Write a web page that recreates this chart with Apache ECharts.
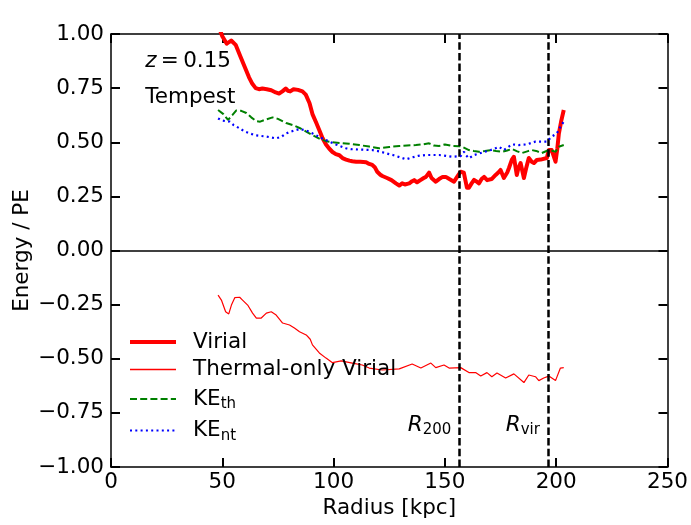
<!DOCTYPE html>
<html>
<head>
<meta charset="utf-8">
<script src="https://cdn.jsdelivr.net/npm/echarts@6/dist/echarts.min.js"></script>
<style>
html,body{margin:0;padding:0;background:#ffffff}
#chart{width:691px;height:525px}
</style>
</head>
<body>
<div id="chart"></div>
<script>
// Energy ratios versus radius (kpc)
var virialR = [48.5,50.0,52.0,54.0,56.0,58.0,60.0,62.0,63.5,65.0,66.5,68.0,70.0,72.0,74.0,75.5,77.0,78.5,79.5,80.5,82.0,84.0,86.0,87.5,89.2,90.5,92.2,93.6,95.0,96.6,98.1,99.5,101.0,102.6,104.0,105.6,107.1,108.4,110.1,112.0,114.6,116.0,117.4,118.5,119.6,121.0,121.9,124.0,126.0,128.0,129.5,130.8,132.0,134.0,135.3,136.2,137.5,139.0,140.5,141.5,142.9,144.0,145.9,147.4,149.0,150.4,152.0,154.1,155.5,157.1,158.5,159.9,160.8,162.0,163.1,164.0,165.3,166.5,167.6,169.0,169.8,171.0,172.8,174.0,175.0,176.5,178.0,178.8,180.1,181.0,182.3,183.0,184.0,185.5,186.5,187.7,189.0,190.0,191.3,193.0,195.8,196.7,198.0,199.7,200.5,201.2,202.3,203.4];
var virialV = [1.03,0.99,0.955,0.97,0.95,0.90,0.85,0.80,0.77,0.75,0.745,0.748,0.745,0.74,0.73,0.725,0.735,0.748,0.738,0.735,0.745,0.742,0.735,0.72,0.68,0.63,0.59,0.555,0.52,0.49,0.47,0.455,0.445,0.44,0.427,0.42,0.415,0.412,0.41,0.41,0.408,0.40,0.395,0.385,0.364,0.35,0.344,0.335,0.325,0.31,0.30,0.31,0.305,0.31,0.32,0.325,0.315,0.325,0.335,0.34,0.36,0.335,0.318,0.33,0.34,0.34,0.33,0.318,0.34,0.364,0.36,0.29,0.29,0.31,0.326,0.32,0.31,0.33,0.34,0.325,0.318,0.33,0.349,0.36,0.372,0.335,0.36,0.381,0.42,0.433,0.349,0.38,0.404,0.335,0.38,0.427,0.41,0.404,0.418,0.42,0.427,0.464,0.464,0.41,0.47,0.54,0.60,0.649];

var thermalR = [48.1,49.6,51.5,52.9,54.1,55.6,57.8,59.1,61.4,63.6,65.3,67.5,69.8,72.0,74.2,77.1,80.2,82.4,84.7,87.7,89.5,90.5,93.6,96.6,99.5,103.4,108.4,112.9,116.0,121.9,129.5,135.3,139.2,143.7,145.9,149.6,151.9,157.1,160.8,163.8,166.1,168.9,171.1,173.4,177.3,181.0,185.5,187.7,190.7,192.2,194.4,196.7,199.7,201.9,203.4];
var thermalV = [-0.206,-0.229,-0.283,-0.293,-0.252,-0.218,-0.216,-0.229,-0.252,-0.289,-0.312,-0.312,-0.289,-0.283,-0.298,-0.335,-0.344,-0.358,-0.375,-0.39,-0.41,-0.436,-0.473,-0.497,-0.518,-0.51,-0.52,-0.529,-0.543,-0.552,-0.547,-0.524,-0.543,-0.52,-0.541,-0.529,-0.543,-0.541,-0.564,-0.564,-0.58,-0.564,-0.583,-0.566,-0.589,-0.57,-0.61,-0.575,-0.583,-0.601,-0.589,-0.58,-0.601,-0.543,-0.541];

var keThR = [48.1,50.5,52.6,54.5,56.3,58.5,60.8,63.0,65.3,67.0,69.0,72.6,75.0,78.7,82.0,84.7,87.5,90.5,93.6,96.6,99.5,102.6,107.0,111.6,116.0,120.5,125.0,129.5,133.0,137.0,140.0,142.9,145.0,147.4,150.0,153.2,156.4,157.7,160.8,163.0,165.3,168.0,170.6,173.0,175.6,178.0,180.1,182.5,184.6,187.0,189.1,191.5,193.5,196.7,198.5,199.7,201.2,203.4];
var keThV = [0.649,0.63,0.603,0.625,0.647,0.645,0.635,0.615,0.597,0.595,0.603,0.615,0.608,0.589,0.578,0.566,0.55,0.533,0.517,0.505,0.50,0.497,0.493,0.487,0.48,0.472,0.478,0.483,0.485,0.487,0.49,0.495,0.485,0.483,0.49,0.483,0.482,0.479,0.464,0.46,0.456,0.46,0.464,0.46,0.456,0.462,0.469,0.458,0.45,0.458,0.464,0.458,0.45,0.464,0.46,0.456,0.479,0.487];

var keNtR = [48.1,50.0,53.3,55.0,57.8,60.0,62.3,65.0,69.8,74.2,76.5,78.7,82.0,84.7,87.5,90.5,94.0,98.1,101.0,105.6,108.0,112.0,117.4,121.0,123.5,127.0,130.0,132.5,135.3,138.0,141.4,147.4,153.2,157.1,158.6,159.5,160.8,163.1,166.7,170.6,174.3,176.5,180.1,183.2,186.8,190.7,195.8,198.0,200.3,201.9,203.4];
var keNtV = [0.61,0.60,0.595,0.58,0.564,0.55,0.541,0.532,0.526,0.518,0.525,0.541,0.553,0.561,0.555,0.541,0.522,0.503,0.49,0.472,0.468,0.466,0.464,0.457,0.449,0.44,0.43,0.421,0.43,0.437,0.441,0.441,0.433,0.436,0.456,0.44,0.426,0.441,0.452,0.464,0.479,0.464,0.49,0.487,0.49,0.503,0.503,0.526,0.541,0.572,0.595];

// Characteristic radii (kpc)
var r200 = 156.5;
var rVir = 196.3;

var xTicks = {min: 0, max: 250, interval: 50};
var yTicks = {min: -1, max: 1, interval: 0.25};

function pairs(xs, ys) {
  return xs.map(function (x, i) { return [x, ys[i]]; });
}

var FONT = 'DejaVu Sans';
var FS = 21.5;   // body text
var FSUB = 15;   // subscripts

function fmtY(v) {
  var s = Math.abs(v).toFixed(2);
  return (v < -1e-9 ? '\u2212' : '') + s;
}

var tickStyle = {show: true, inside: true, length: 9, lineStyle: {color: '#000', width: 2}};
var spine = {show: true, onZero: false, lineStyle: {color: '#000', width: 1.5}};

var chart = echarts.init(document.getElementById('chart'), null, {renderer: 'canvas'});

var option = {
  animation: false,
  backgroundColor: '#ffffff',
  grid: {left: 111, right: 22, top: 34, bottom: 58, containLabel: false},
  xAxis: [{
    type: 'value', min: xTicks.min, max: xTicks.max, interval: xTicks.interval,
    position: 'bottom',
    name: 'Radius [kpc]', nameLocation: 'middle', nameGap: 30,
    nameTextStyle: {fontFamily: FONT, fontSize: FS, color: '#000'},
    axisLine: spine, axisTick: tickStyle, splitLine: {show: false},
    axisLabel: {fontFamily: FONT, fontSize: FS, color: '#000', margin: 4}
  }, {
    type: 'value', min: xTicks.min, max: xTicks.max, interval: xTicks.interval,
    position: 'top',
    axisLine: spine, axisTick: tickStyle, splitLine: {show: false},
    axisLabel: {show: false}
  }],
  yAxis: [{
    type: 'value', min: yTicks.min, max: yTicks.max, interval: yTicks.interval,
    position: 'left',
    name: 'Energy / PE', nameLocation: 'middle', nameGap: 78, nameRotate: 90,
    nameMoveOverlap: false,
    nameTextStyle: {fontFamily: FONT, fontSize: FS, color: '#000'},
    axisLine: spine, axisTick: tickStyle, splitLine: {show: false},
    axisLabel: {fontFamily: FONT, fontSize: FS, color: '#000', margin: 7, formatter: fmtY}
  }, {
    type: 'value', min: yTicks.min, max: yTicks.max, interval: yTicks.interval,
    position: 'right',
    axisLine: spine, axisTick: tickStyle, splitLine: {show: false},
    axisLabel: {show: false}
  }],
  legend: {
    orient: 'vertical', left: 123, top: 326,
    itemWidth: 46, itemHeight: 14, itemGap: 5.5,
    itemStyle: {opacity: 0},
    data: [
      {name: 'Virial', lineStyle: {width: 4}},
      {name: 'Thermal-only Virial', lineStyle: {width: 1.5}},
      {name: 'KE_th'},
      {name: 'KE_nt'}
    ],
    formatter: function (name) {
      if (name === 'KE_th') return '{n|KE}{s|th}';
      if (name === 'KE_nt') return '{n|KE}{s|nt}';
      return '{n|' + name + '}';
    },
    textStyle: {
      fontFamily: FONT, fontSize: FS, color: '#000', padding: [0, 0, 0, 12],
      rich: {
        n: {fontFamily: FONT, fontSize: FS, color: '#000', lineHeight: 24},
        s: {fontFamily: FONT, fontSize: FSUB, color: '#000', lineHeight: 24, padding: [11, 0, 0, 0]}
      }
    }
  },
  series: [{
    name: 'Virial', type: 'line', showSymbol: false, symbol: 'none',
    data: pairs(virialR, virialV), clip: true,
    lineStyle: {color: '#ff0000', width: 4, join: 'round'}, itemStyle: {color: '#ff0000'},
    z: 2,
    markLine: {
      silent: true, symbol: 'none', animation: false,
      label: {show: false},
      data: [
        {yAxis: 0, lineStyle: {color: '#000', width: 1.5, type: 'solid'}},
        {xAxis: r200, lineStyle: {color: '#000', width: 2.5, type: [7.5, 3.2]}},
        {xAxis: rVir, lineStyle: {color: '#000', width: 2.5, type: [7.5, 3.2]}}
      ]
    }
  }, {
    name: 'Thermal-only Virial', type: 'line', showSymbol: false, symbol: 'none',
    data: pairs(thermalR, thermalV),
    lineStyle: {color: '#ff0000', width: 1.2}, itemStyle: {color: '#ff0000'}, z: 3
  }, {
    name: 'KE_th', type: 'line', showSymbol: false, symbol: 'none',
    data: pairs(keThR, keThV),
    lineStyle: {color: '#008000', width: 2, type: [7, 3.2]}, itemStyle: {color: '#008000'}, z: 4
  }, {
    name: 'KE_nt', type: 'line', showSymbol: false, symbol: 'none',
    data: pairs(keNtR, keNtV),
    lineStyle: {color: '#0000ff', width: 2.2, type: [2, 3.3]}, itemStyle: {color: '#0000ff'}, z: 5
  }]
};

chart.setOption(option);

// Text annotations anchored to data coordinates
function px(x, y) { return chart.convertToPixel({gridIndex: 0}, [x, y]); }
var pz = px(15.4, 0.872);
var pt = px(15.4, 0.707);
var pR200 = px(r200, -0.808);
var pRvir = px(rVir, -0.808);

var subRich = {
  i: {fontFamily: FONT, fontSize: FS, fontStyle: 'italic', fill: '#000', lineHeight: 26},
  s: {fontFamily: FONT, fontSize: FSUB, fill: '#000', lineHeight: 26, padding: [10, 0, 0, 0]}
};

chart.setOption({
  graphic: [{
    type: 'text', x: pz[0], y: pz[1],
    style: {
      text: '{i|z}{n|\u2009=\u20090.15}', verticalAlign: 'middle', align: 'left',
      rich: {
        i: {fontFamily: FONT, fontSize: FS, fontStyle: 'italic', fill: '#000'},
        n: {fontFamily: FONT, fontSize: FS, fill: '#000'}
      }
    }
  }, {
    type: 'text', x: pt[0], y: pt[1],
    style: {text: 'Tempest', fontFamily: FONT, fontSize: FS, fill: '#000', verticalAlign: 'middle', align: 'left'}
  }, {
    type: 'text', x: pR200[0] - 8, y: pR200[1],
    style: {text: '{i|R}{s|200}', align: 'right', verticalAlign: 'middle', rich: subRich}
  }, {
    type: 'text', x: pRvir[0] - 8, y: pRvir[1],
    style: {text: '{i|R}{s|vir}', align: 'right', verticalAlign: 'middle', rich: subRich}
  }]
});
</script>
</body>
</html>
